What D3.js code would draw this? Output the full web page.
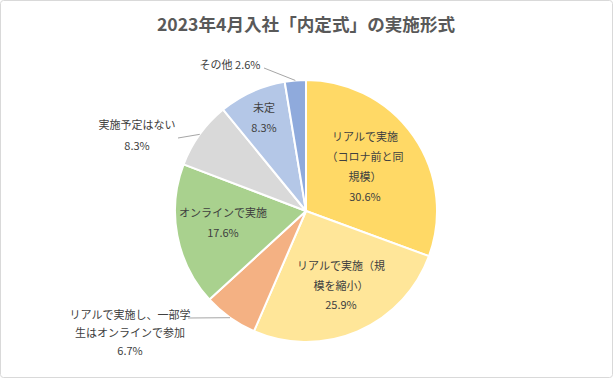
<!DOCTYPE html>
<html><head><meta charset="utf-8">
<script src="https://cdn.jsdelivr.net/npm/d3@7"></script>
<style>
html,body{margin:0;padding:0;background:#fff;}
text{font-family:"Noto Sans CJK JP","Noto Sans",sans-serif;}
</style></head>
<body>
<svg id="chart" width="613" height="378"></svg>
<script>
const title = "2023年4月入社「内定式」の実施形式";
const categories = [
  "リアルで実施（コロナ前と同規模）",
  "リアルで実施（規模を縮小）",
  "リアルで実施し、一部学生はオンラインで参加",
  "オンラインで実施",
  "実施予定はない",
  "未定",
  "その他"
];
const values = [30.6, 25.9, 6.7, 17.6, 8.3, 8.3, 2.6];
const colors = ["#FFD966", "#FFE699", "#F4B183", "#A9D18E", "#D9D9D9", "#B4C7E7", "#8FAADC"];
// label lines as wrapped in the chart
const labelLines = [
  ["リアルで実施", "（コロナ前と同", "規模）", "30.6%"],
  ["リアルで実施（規", "模を縮小）", "25.9%"],
  ["リアルで実施し、一部学", "生はオンラインで参加", "6.7%"],
  ["オンラインで実施", "17.6%"],
  ["実施予定はない", "8.3%"],
  ["未定", "8.3%"],
  ["その他 2.6%"]
];

const svg = d3.select("#chart");
const W = 613, H = 378;
svg.append("rect").attr("x", 0.5).attr("y", 0.5).attr("width", W - 1).attr("height", H - 1)
  .attr("rx", 3).attr("fill", "#fff").attr("stroke", "#D9D9D9");

svg.append("text").attr("x", 306).attr("y", 31).attr("text-anchor", "middle")
  .attr("font-size", 17.6).attr("font-weight", "bold").attr("fill", "#595959").text(title);

const cx = 306, cy = 211, R = 131;
const g = svg.append("g").attr("transform", `translate(${cx},${cy})`);
const pie = d3.pie().sort(null).value(d => d);
const arcs = pie(values);
const arc = d3.arc().innerRadius(0).outerRadius(R);

g.selectAll("path").data(arcs).join("path")
  .attr("d", arc)
  .attr("fill", (d, i) => colors[i])
  .attr("stroke", "#fff").attr("stroke-width", 2).attr("stroke-linejoin", "round");

// label placement (relative to chart), x = center of text block, y = first line baseline
const labelPos = [
  {x: 365, y: 141, lh: 20},
  {x: 341, y: 270, lh: 19.5},
  {x: 130, y: 319, lh: 18},
  {x: 223, y: 217, lh: 20},
  {x: 137, y: 129, lh: 21},
  {x: 264, y: 112, lh: 20},
  {x: 230, y: 69, lh: 20}
];
// leader lines for outside labels: [slice index, start point x,y]
const leaders = [
  {i: 2, x: 188, y: 318},
  {i: 4, x: 178, y: 138},
  {i: 6, x: 264, y: 68}
];
leaders.forEach(l => {
  const a = arcs[l.i];
  const mid = (a.startAngle + a.endAngle) / 2;
  const ex = cx + Math.sin(mid) * R, ey = cy - Math.cos(mid) * R;
  svg.append("polyline")
    .attr("points", `${l.x},${l.y} ${ex},${ey}`)
    .attr("fill", "none").attr("stroke", "#A6A6A6").attr("stroke-width", 1);
});

labelLines.forEach((lines, i) => {
  const p = labelPos[i];
  const t = svg.append("text").attr("text-anchor", "middle").attr("font-size", 11).attr("fill", "#404040");
  lines.forEach((s, k) => {
    t.append("tspan").attr("x", p.x).attr("y", p.y + k * p.lh).text(s);
  });
});
</script>
</body></html>
